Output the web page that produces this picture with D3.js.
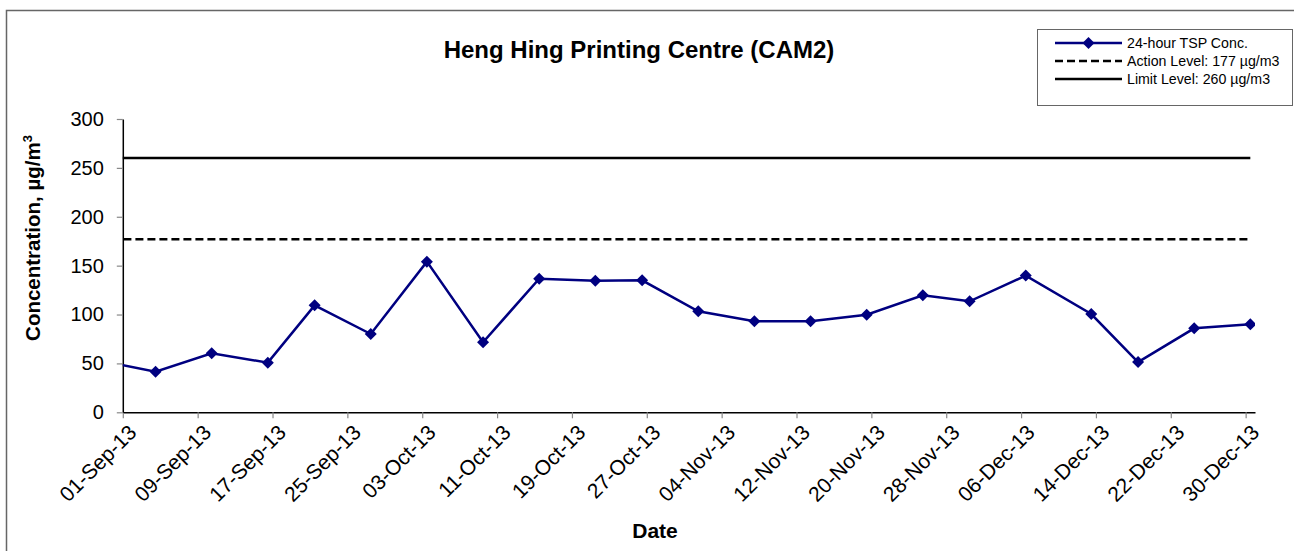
<!DOCTYPE html>
<html>
<head>
<meta charset="utf-8">
<script src="https://cdn.jsdelivr.net/npm/d3@7"></script>
<style>
  body { margin: 0; background: #fff; }
  svg { font-family: "Liberation Sans", Arial, sans-serif; }
</style>
</head>
<body>
<svg></svg>
<script>
// sampling dates and 24-hour TSP values (first point lies before the axis start and is clipped)
let dates = ['29-Aug-13','04-Sep-13','10-Sep-13','16-Sep-13','21-Sep-13','27-Sep-13','03-Oct-13','09-Oct-13',
             '15-Oct-13','21-Oct-13','26-Oct-13','01-Nov-13','07-Nov-13','13-Nov-13','19-Nov-13','25-Nov-13',
             '30-Nov-13','06-Dec-13','13-Dec-13','18-Dec-13','24-Dec-13','30-Dec-13'];
let tsp = [53, 41.5, 60.3, 50.8, 109.4, 80.1, 154.1, 71.6,
           136.7, 134.6, 135, 103.3, 93.1, 93.1, 99.8, 119.6,
           113.5, 139.8, 100.5, 51.4, 85.9, 90];

// level lines
let actionLevel = 177;
let limitLevel = 260;

// axis ticks
let xTickLabels = ['01-Sep-13','09-Sep-13','17-Sep-13','25-Sep-13','03-Oct-13','11-Oct-13','19-Oct-13','27-Oct-13',
                   '04-Nov-13','12-Nov-13','20-Nov-13','28-Nov-13','06-Dec-13','14-Dec-13','22-Dec-13','30-Dec-13'];
let yTicks = [0, 50, 100, 150, 200, 250, 300];
let axisStart = '01-Sep-13';
let axisEnd = '31-Dec-13';

let legendLabels = ['24-hour TSP Conc.', 'Action Level: 177 \u00b5g/m3', 'Limit Level: 260 \u00b5g/m3'];

let width = 1294;
let height = 551;
let plotLeft = 122.8, plotRight = 1255, plotTop = 119, plotBottom = 412.3;
let navy = '#000080';

let parse = d3.timeParse('%d-%b-%y');
let fmt = d3.timeFormat('%d-%b-%y');
let values = dates.map((d, i) => [parse(d), tsp[i]]);

let svg = d3.select('svg').attr('width', width).attr('height', height);

let xScale = d3.scaleTime()
               .domain([parse(axisStart), parse(axisEnd)])
               .range([plotLeft, plotRight]);
let yScale = d3.scaleLinear()
               .domain([0, 300])
               .range([plotBottom, plotTop]);

// Excel puts each point in the middle of its day slot
let halfDay = (xScale(parse('02-Sep-13')) - xScale(parse('01-Sep-13'))) / 2;
let px = (d) => xScale(d) + halfDay;

// outer chart border (runs off the right and bottom of the picture)
svg.append('path')
   .attr('d', 'M6.5,' + (height + 5) + 'V10.5H' + (width + 5))
   .attr('fill', 'none')
   .attr('stroke', '#666')
   .attr('stroke-width', 1.5);

svg.append('defs').append('clipPath').attr('id', 'plot')
   .append('rect')
   .attr('x', plotLeft).attr('y', plotTop - 10)
   .attr('width', plotRight - plotLeft).attr('height', plotBottom - plotTop + 20);

// axes
let xAxis = d3.axisBottom(xScale)
              .tickValues(xTickLabels.map(parse))
              .tickFormat(fmt)
              .tickSize(6)
              .tickSizeOuter(0);
let yAxis = d3.axisLeft(yScale)
              .tickValues(yTicks)
              .tickSize(6)
              .tickSizeOuter(0);

let gx = svg.append('g')
   .attr('transform', 'translate(0,' + plotBottom + ')')
   .call(xAxis);
gx.select('.domain').attr('stroke', '#000').attr('stroke-width', 1.5);
gx.selectAll('.tick line').attr('stroke', '#888').attr('stroke-width', 1.2);
gx.selectAll('.tick text')
  .attr('font-size', 21)
  .attr('fill', '#000')
  .attr('text-anchor', 'end')
  .attr('dy', 0)
  .attr('transform', 'translate(8,15) rotate(-45)');

let gy = svg.append('g')
   .attr('transform', 'translate(' + plotLeft + ',0)')
   .call(yAxis);
gy.select('.domain').attr('stroke', '#000').attr('stroke-width', 1.5);
gy.selectAll('.tick line').attr('stroke', '#888').attr('stroke-width', 1.2);
gy.selectAll('.tick text').attr('font-size', 20).attr('fill', '#000').attr('x', -19);

// level lines
let plot = svg.append('g').attr('clip-path', 'url(#plot)');
let first = values[0][0], last = values[values.length - 1][0];

plot.append('line')
    .attr('x1', px(first)).attr('x2', px(last))
    .attr('y1', yScale(limitLevel)).attr('y2', yScale(limitLevel))
    .attr('stroke', '#000').attr('stroke-width', 2.5);
plot.append('line')
    .attr('x1', px(first)).attr('x2', px(last))
    .attr('y1', yScale(actionLevel)).attr('y2', yScale(actionLevel))
    .attr('stroke', '#000').attr('stroke-width', 2.5)
    .attr('stroke-dasharray', '8,4');

// TSP series
let line = d3.line().x((d) => px(d[0])).y((d) => yScale(d[1]));
plot.append('path')
    .datum(values)
    .attr('d', line)
    .attr('fill', 'none')
    .attr('stroke', navy)
    .attr('stroke-width', 2.5);

let diamond = d3.symbol().type(d3.symbolSquare).size(72);
plot.selectAll('.pt')
    .data(values)
    .enter()
    .append('path')
    .attr('class', 'pt')
    .attr('d', diamond)
    .attr('fill', navy)
    .attr('transform', (d) => 'translate(' + px(d[0]) + ',' + yScale(d[1]) + ') rotate(45)');

// titles
svg.append('text')
   .attr('x', 639).attr('y', 58)
   .attr('text-anchor', 'middle')
   .attr('font-size', 24).attr('font-weight', 'bold')
   .text('Heng Hing Printing Centre (CAM2)');

svg.append('text')
   .attr('x', 655).attr('y', 538)
   .attr('text-anchor', 'middle')
   .attr('font-size', 21).attr('font-weight', 'bold')
   .text('Date');

let yl = svg.append('text')
   .attr('transform', 'translate(40,238) rotate(-90)')
   .attr('text-anchor', 'middle')
   .attr('font-size', 20.5).attr('font-weight', 'bold');
yl.append('tspan').text('Concentration, \u00b5g/m');
yl.append('tspan').attr('font-size', 13).attr('dy', -8).text('3');

// legend
let legend = svg.append('g');
legend.append('rect')
      .attr('x', 1037.5).attr('y', 29.5)
      .attr('width', 255).attr('height', 76)
      .attr('fill', '#fff')
      .attr('stroke', '#666');
let rows = [43, 61, 79];
legendLabels.forEach((t, i) => {
  let l = legend.append('line')
        .attr('x1', 1055).attr('x2', 1122)
        .attr('y1', rows[i]).attr('y2', rows[i])
        .attr('stroke', i == 0 ? navy : '#000')
        .attr('stroke-width', 2.5);
  if (i == 1) l.attr('stroke-dasharray', '8,4');
  if (i == 0) {
    legend.append('path')
          .attr('d', diamond)
          .attr('fill', navy)
          .attr('transform', 'translate(1088.5,' + rows[i] + ') rotate(45)');
  }
  legend.append('text')
        .attr('x', 1127).attr('y', rows[i] + 5)
        .attr('font-size', 14.2)
        .text(t);
});
</script>
</body>
</html>
